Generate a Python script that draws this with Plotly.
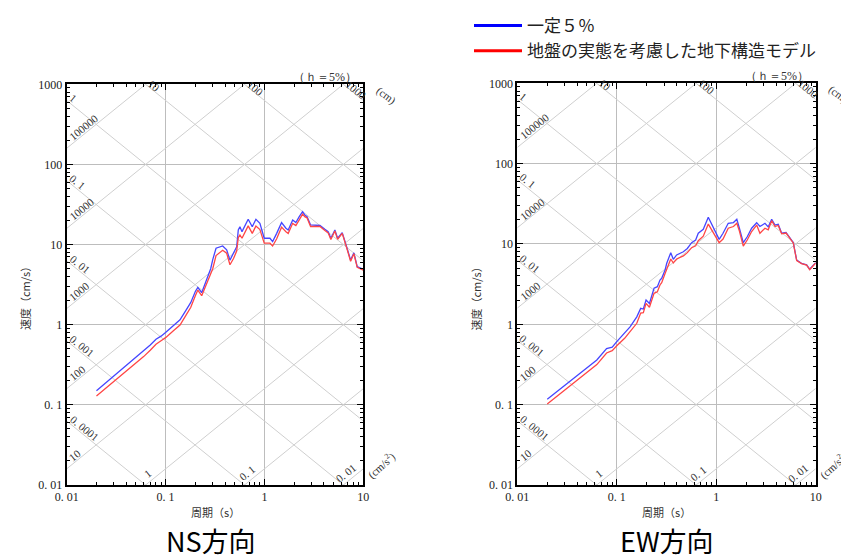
import math
import plotly.graph_objects as go

# ---------------- data ----------------
ns_period = [0.02, 0.03, 0.04, 0.05, 0.06, 0.07, 0.08, 0.09, 0.1,
             0.12, 0.14, 0.16, 0.18, 0.2, 0.212, 0.232, 0.26, 0.286, 0.3,
             0.324, 0.378, 0.415, 0.448, 0.487, 0.524, 0.544, 0.565, 0.593, 0.685,
             0.753, 0.82, 0.9, 0.995, 1.137, 1.21, 1.33, 1.49, 1.65, 1.74,
             1.93, 2.08, 2.25, 2.43, 2.56, 2.7, 2.93, 3.64, 4.09, 4.41,
             4.7, 5.16, 5.5, 6.12, 6.78, 7.44, 8.03, 8.68, 10]
ns_const5 = [0.150, 0.23, 0.31, 0.39, 0.47, 0.56, 0.66, 0.72, 0.80,
             0.97, 1.15, 1.5, 1.9, 2.6, 2.93, 2.51, 3.6, 5.0, 6.5,
             9.0, 9.6, 8.6, 6.4, 7.8, 9.4, 15.2, 16.7, 14.5, 20.7,
             16.7, 20.7, 18.4, 12, 12, 10.9, 13.8, 18.8, 16, 15.2,
             20.3, 18.8, 22.3, 25.7, 23.4, 22.3, 17.6, 17.3, 15.5, 14.5,
             12, 15.2, 12, 14.1, 9.4, 6.4, 7.9, 5.3, 4.9]
ns_model = [0.129, 0.195, 0.26, 0.33, 0.40, 0.48, 0.57, 0.63, 0.69,
            0.84, 0.99, 1.3, 1.65, 2.3, 2.71, 2.3, 3.2, 4.3, 5.0,
            7.3, 8.5, 7.8, 5.6, 6.7, 8.3, 12.2, 13.2, 12, 17.1,
            13.8, 17.0, 15.4, 10.4, 10.4, 9.6, 11.8, 16.5, 14.5, 13.8,
            18.4, 17.3, 20.3, 24, 22.3, 21.5, 16.8, 16.8, 15.0, 14.0,
            11.6, 14.8, 11.6, 13.8, 9.2, 6.2, 7.7, 5.2, 4.8]

ew_period = [0.02, 0.03, 0.04, 0.05, 0.063, 0.079, 0.09, 0.1, 0.12, 0.136,
             0.159, 0.174, 0.185, 0.197, 0.213, 0.237, 0.256, 0.272, 0.283, 0.306,
             0.318, 0.349, 0.37, 0.40, 0.467, 0.512, 0.566, 0.621, 0.66, 0.741,
             0.832, 0.934, 1.07, 1.17, 1.32, 1.49, 1.61, 1.71, 1.87, 2.05,
             2.27, 2.55, 2.75, 3.09, 3.33, 3.61, 3.9, 4.2, 4.55, 5.03,
             5.5, 5.95, 6.44, 7.2, 8.1, 8.7, 10]
ew_const5 = [0.117, 0.175, 0.23, 0.29, 0.36, 0.50, 0.52, 0.61, 0.78, 0.93,
             1.24, 1.58, 1.55, 2.01, 1.82, 2.81, 2.94, 3.56, 3.74, 4.75,
             5.75, 7.8, 6.45, 7.3, 8.0, 8.8, 10.4, 11.2, 13.6, 15.2,
             21.5, 15.7, 11.4, 13.6, 18.1, 18.5, 20.3, 15.7, 10.4, 12.3,
             15.7, 18.4, 16.5, 18.1, 16.3, 20.3, 17.2, 17.6, 13.6, 13.9,
             11.7, 10.4, 6.3, 5.75, 5.5, 4.85, 5.85]
ew_model = [0.102, 0.152, 0.20, 0.25, 0.315, 0.44, 0.47, 0.54, 0.67, 0.81,
            1.03, 1.38, 1.40, 1.82, 1.63, 2.43, 2.54, 3.09, 3.3, 4.3,
            4.9, 6.5, 5.8, 6.5, 7.1, 7.8, 9.0, 9.5, 11.0, 12.5,
            17.7, 13.8, 10.4, 11.5, 15.7, 16.5, 18.1, 14.5, 9.4, 11.2,
            14.3, 17.2, 13.6, 15.7, 15.0, 19.5, 16.5, 17.0, 13.4, 13.7,
            11.6, 10.3, 6.2, 5.7, 5.45, 4.8, 5.8]

x_tickvals = [0.01, 0.1, 1, 10]
x_ticktext = ["0. 01", "0. 1", "1", "10"]
y_tickvals = [0.01, 0.1, 1, 10, 100, 1000]
y_ticktext = ["0. 01", "0. 1", "1", "10", "100", "1000"]

disp_grid = [1e-4, 1e-3, 1e-2, 1e-1, 1, 10, 100, 1000]          # cm
acc_grid = [1e-2, 1e-1, 1, 10, 100, 1000, 1e4, 1e5]            # cm/s2
disp_left_labels = [(1, "1"), (0.1, "0. 1"), (0.01, "0. 01"), (0.001, "0. 001"), (0.0001, "0. 0001")]
disp_top_labels = [(10, "10"), (100, "100"), (1000, "1000")]
acc_left_labels = [(1e5, "100000"), (1e4, "10000"), (1e3, "1000"), (100, "100"), (10, "10")]
acc_bottom_labels = [(1, "1"), (0.1, "0. 1"), (0.01, "0. 01")]

series_names = ["一定５％", "地盤の実態を考慮した地下構造モデル"]
captions = ["NS方向", "EW方向"]
x_title = "周期（s）"
y_title = "速度（cm/s）"
damping_note = "（ｈ＝5%）"

# ---------------- layout geometry ----------------
# the page body adds an 8 px margin, so the figure is drawn 8 px in from the window corner
OFF = 8
W, H = 849 - OFF, 559 - OFF


def fx(px):
    return (px - OFF) / W


def fy(py):
    return 1 - (py - OFF) / H


panels = [
    dict(px=(66.7, 363.3), py=(84.3, 485), xa="x", ya="y",
         period=ns_period, v1=ns_const5, v2=ns_model, cap=captions[0], capx=211),
    dict(px=(517.3, 815.7), py=(83.3, 485), xa="x2", ya="y2",
         period=ew_period, v1=ew_const5, v2=ew_model, cap=captions[1], capx=667),
]

SERIF = "Liberation Serif, DejaVu Serif, serif"
CJK = "Noto Sans CJK JP, Noto Sans, sans-serif"
TWO_PI = 2 * math.pi

fig = go.Figure()
annotations = []
layout = {}

for i, p in enumerate(panels):
    xa, ya = p["xa"], p["ya"]
    x0, x1 = p["px"]
    ytop, ybot = p["py"]
    pxx = (x1 - x0) / 3.0       # px per decade (x)
    pxy = (ybot - ytop) / 5.0   # px per decade (y)
    L = math.hypot(pxx, pxy)
    ang = math.degrees(math.atan(pxy / pxx))

    # tripartite grid: constant displacement (slope -1) and constant acceleration (slope +1)
    gx, gy = [], []
    for sd in disp_grid:
        gx += [0.01, 10, None]
        gy += [TWO_PI * sd / 0.01, TWO_PI * sd / 10, None]
    for sa in acc_grid:
        gx += [0.01, 10, None]
        gy += [sa * 0.01 / TWO_PI, sa * 10 / TWO_PI, None]
    fig.add_trace(go.Scatter(x=gx, y=gy, mode="lines", xaxis=xa, yaxis=ya,
                             line=dict(color="#cfcfcf", width=1), hoverinfo="skip",
                             showlegend=False))

    # response spectra
    fig.add_trace(go.Scatter(x=p["period"], y=p["v1"], mode="lines", xaxis=xa, yaxis=ya,
                             line=dict(color="rgb(70,70,255)", width=1.3),
                             name=series_names[0], showlegend=False))
    fig.add_trace(go.Scatter(x=p["period"], y=p["v2"], mode="lines", xaxis=xa, yaxis=ya,
                             line=dict(color="rgb(255,70,70)", width=1.3),
                             name=series_names[1], showlegend=False))

    def lab(lx, ly, sign, s, text, angle, yshift=7, xshift=0):
        d = s / L
        annotations.append(dict(x=lx + d, y=ly + sign * d, xref=xa, yref=ya, text=text,
                                showarrow=False, textangle=angle, yshift=yshift, xshift=xshift,
                                font=dict(family=SERIF, size=11, color="#333"),
                                xanchor="center", yanchor="middle"))

    for sd, t in disp_left_labels:
        lab(-2, math.log10(TWO_PI * sd) + 2, -1, 5 + 2.9 * len(t.replace(" ", "")), t, ang)
    for sd, t in disp_top_labels:
        lab(math.log10(TWO_PI * sd) - 3, 3, -1, 5 + 2.9 * len(t), t, ang, yshift=5)
    for sa, t in acc_left_labels:
        lab(-2, math.log10(sa / TWO_PI) - 2, 1, 5 + 2.9 * len(t), t, -ang)
    for sa, t in acc_bottom_labels:
        lab(math.log10(TWO_PI * 0.01 / sa), -2, 1, 6, t, -ang, yshift=8, xshift=-2)

    def paper_note(px, py, text, angle=0, size=11, family=SERIF, color="#333"):
        annotations.append(dict(x=fx(px), y=fy(py), xref="paper", yref="paper",
                                text=text, showarrow=False, textangle=angle,
                                xanchor="center", yanchor="middle",
                                font=dict(family=family, size=size, color=color)))

    paper_note(x1 + 22.7, ytop + 10.7, "(cm)", angle=37)
    paper_note(x1 + 17.7, ybot - 20, "(cm/s<sup>2</sup>)", angle=-42)
    paper_note(x1 - 38.3, ytop - 7.3, damping_note, size=12)
    paper_note((x0 + x1) / 2, ybot + 27, x_title, family=CJK, size=11)
    paper_note(x0 - 41.7, ybot - 189, y_title, angle=-90, family=CJK, size=11)
    paper_note(p["capx"], 540, p["cap"], family=CJK, size=27, color="black")

    minor_x = [m * 10 ** e for e in range(-2, 1) for m in range(2, 10)]
    minor_y = [m * 10 ** e for e in range(-2, 3) for m in range(2, 10)]
    axis_common = dict(type="log", showline=True, linecolor="black", linewidth=2,
                       mirror="allticks", ticks="inside", ticklen=6, tickcolor="black",
                       showgrid=True, gridcolor="#bdbdbd", gridwidth=1, zeroline=False,
                       automargin=False,
                       tickfont=dict(family=SERIF, size=12, color="#222"))
    xkey = "xaxis" if i == 0 else "xaxis2"
    ykey = "yaxis" if i == 0 else "yaxis2"
    layout[xkey] = dict(axis_common, domain=[fx(x0), fx(x1)], anchor=ya, range=[-2, 1],
                        tickmode="array", tickvals=x_tickvals, ticktext=x_ticktext,
                        minor=dict(tickmode="array", tickvals=minor_x, ticks="inside",
                                   ticklen=3, tickcolor="black", showgrid=False))
    layout[ykey] = dict(axis_common, domain=[fy(ybot), fy(ytop)], anchor=xa, range=[-2, 3],
                        tickmode="array", tickvals=y_tickvals, ticktext=y_ticktext,
                        minor=dict(tickmode="array", tickvals=minor_y, ticks="inside",
                                   ticklen=3, tickcolor="black", showgrid=False))

# legend entries
fig.add_trace(go.Scatter(x=[None], y=[None], mode="lines", line=dict(color="blue", width=3),
                         name=series_names[0]))
fig.add_trace(go.Scatter(x=[None], y=[None], mode="lines", line=dict(color="red", width=3),
                         name=series_names[1]))

fig.update_layout(
    width=W, height=H, margin=dict(l=0, r=0, t=0, b=0),
    paper_bgcolor="white", plot_bgcolor="white",
    showlegend=True,
    legend=dict(x=fx(469), y=1.0, xanchor="left", yanchor="top",
                font=dict(family=CJK, size=17, color="#222"),
                itemwidth=48, tracegroupgap=0, bgcolor="rgba(0,0,0,0)"),
    annotations=annotations,
    **layout,
)

fig.write_html("out.html")
